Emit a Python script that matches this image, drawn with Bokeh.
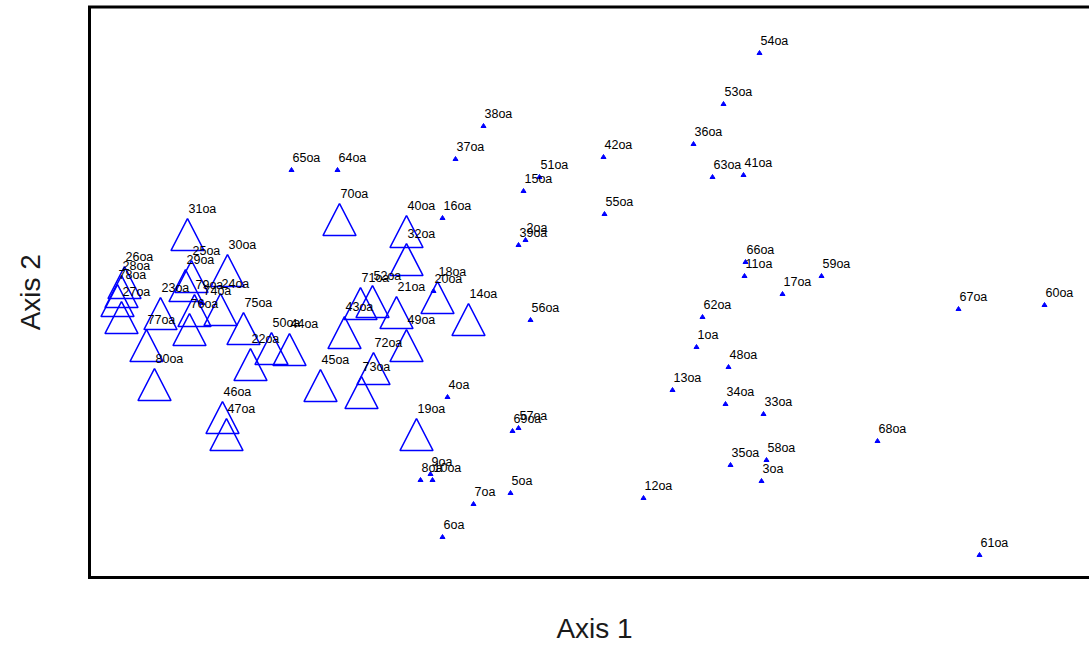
import numpy as np
from bokeh.plotting import figure
from bokeh.models import Range1d
from bokeh.embed import file_html
from bokeh.resources import INLINE
from bokeh.core.properties import value

# ordination scores (arbitrary units)
labels = ["54oa", "53oa", "36oa", "42oa", "63oa", "41oa", "38oa", "37oa", "51oa", "15oa",
          "16oa", "55oa", "2oa", "39oa", "65oa", "64oa", "66oa", "11oa", "59oa", "17oa",
          "62oa", "1oa", "48oa", "13oa", "34oa", "33oa", "68oa", "35oa", "58oa", "3oa",
          "12oa", "67oa", "60oa", "61oa", "56oa", "4oa", "69oa", "57oa", "8oa", "10oa",
          "9oa", "5oa", "7oa", "6oa", "20oa", "74oa",
          "70oa", "40oa", "32oa", "31oa", "30oa", "14oa", "18oa", "21oa", "49oa", "72oa",
          "73oa", "45oa", "43oa", "71oa", "52oa", "19oa", "75oa", "22oa", "50oa", "44oa",
          "46oa", "47oa", "80oa", "77oa", "23oa", "25oa", "29oa", "26oa", "28oa", "78oa",
          "27oa", "79oa", "24oa", "76oa"]
axis1 = [67.0, 63.4, 60.4, 51.4, 62.3, 65.4, 39.4, 36.6, 45.0, 43.4,
         35.3, 51.5, 43.6, 42.9, 20.2, 24.8, 65.6, 65.5, 73.2, 69.3,
         61.3, 60.7, 63.9, 58.3, 63.6, 67.4, 78.8, 64.1, 67.7, 67.2,
         55.4, 86.9, 95.5, 89.0, 44.1, 35.8, 42.3, 42.9, 33.1, 34.3,
         34.1, 42.1, 38.4, 35.3, 34.4, 11.3,
         25.0, 31.7, 31.7, 9.8, 13.8, 37.9, 34.8, 30.7, 31.7, 28.4,
         27.2, 23.1, 25.5, 27.1, 28.3, 32.7, 15.4, 16.1, 18.2, 20.0,
         13.3, 13.7, 6.5, 5.7, 7.1, 10.2, 9.6, 3.5, 3.2, 2.8,
         3.2, 10.5, 13.1, 10.0]
axis2 = [52.7, 47.6, 43.6, 42.3, 40.3, 40.5, 45.4, 42.1, 40.3, 38.9,
         36.2, 36.6, 34.0, 33.5, 41.0, 41.0, 31.8, 30.4, 30.4, 28.6,
         26.3, 23.3, 21.3, 19.0, 17.6, 16.6, 13.9, 11.5, 12.0, 9.9,
         8.2, 27.1, 27.5, 2.5, 26.0, 18.3, 14.9, 15.2, 10.0, 10.0,
         10.6, 8.7, 7.6, 4.3, 28.9, 27.7,
         37.4, 36.2, 33.4, 35.9, 32.3, 27.4, 29.6, 28.1, 24.8, 22.5,
         20.1, 20.8, 26.1, 29.0, 29.2, 15.9, 26.5, 22.9, 24.5, 24.4,
         17.6, 15.9, 20.9, 24.8, 28.0, 31.7, 30.8, 31.1, 30.2, 29.3,
         27.6, 28.3, 28.4, 26.4]
# 1 = large symbol, 0 = small symbol
group = [0] * 46 + [1] * 34

# plot box (ordination space) and the visible view around it
BOX_X0, BOX_X1 = 0.0, 101.0
BOX_Y0, BOX_Y1 = 0.0, 57.05
VIEW_X0, VIEW_X1 = -8.9, 100.0
VIEW_Y0, VIEW_Y1 = -6.9, 57.7
FW, FH = 1089, 646
dx = (VIEW_X1 - VIEW_X0) / FW
dy = (VIEW_Y1 - VIEW_Y0) / FH

p = figure(frame_width=FW, frame_height=FH,
           x_range=Range1d(VIEW_X0, VIEW_X1), y_range=Range1d(VIEW_Y0, VIEW_Y1),
           x_axis_location=None, y_axis_location=None,
           output_backend="svg", toolbar_location=None,
           min_border_left=0, min_border_right=0, min_border_top=0, min_border_bottom=0)
p.grid.visible = False
p.outline_line_color = None
p.background_fill_color = "white"
p.border_fill_color = "white"

# plot box border (its right side lies beyond the picture)
p.line([BOX_X1, BOX_X0, BOX_X0, BOX_X1], [BOX_Y0, BOX_Y0, BOX_Y1, BOX_Y1],
       line_color="black", line_width=3, line_join="miter")

def tri(xv, yv, half_w, h):
    xs = [[x, x - half_w * dx, x + half_w * dx] for x in xv]
    ys = [[y, y - h * dy, y - h * dy] for y in yv]
    return xs, ys

bx = [x for x, g in zip(axis1, group) if g == 1]
by = [y for y, g in zip(axis2, group) if g == 1]
sx = [x for x, g in zip(axis1, group) if g == 0]
sy = [y for y, g in zip(axis2, group) if g == 0]

xs, ys = tri(bx, by, 16.5, 32)
p.patches(xs, ys, fill_color=None, line_color="#0000ff", line_width=1.6)
xs, ys = tri(sx, sy, 2.5, 4)
p.patches(xs, ys, fill_color="#0000ff", line_color="#0000ff", line_width=1)

p.text(axis1, axis2, text=labels, x_offset=1, y_offset=-10,
       text_baseline="alphabetic", text_align="left",
       text_font=value("Liberation Sans"), text_font_size="12.5px", text_color="black")

# axis titles
p.text(x=[(BOX_X0 + BOX_X1) / 2], y=[BOX_Y0 - 5.1], text=["Axis 1"],
       text_align="center", text_baseline="middle",
       text_font=value("Liberation Sans"), text_font_size="28px", text_color="#1a1a1a")
p.text(x=[BOX_X0 - 5.9], y=[(BOX_Y0 + BOX_Y1) / 2], text=["Axis 2"], angle=np.pi / 2,
       text_align="center", text_baseline="middle",
       text_font=value("Liberation Sans"), text_font_size="28px", text_color="#1a1a1a")

open("out.html", "w").write(file_html(p, INLINE))
